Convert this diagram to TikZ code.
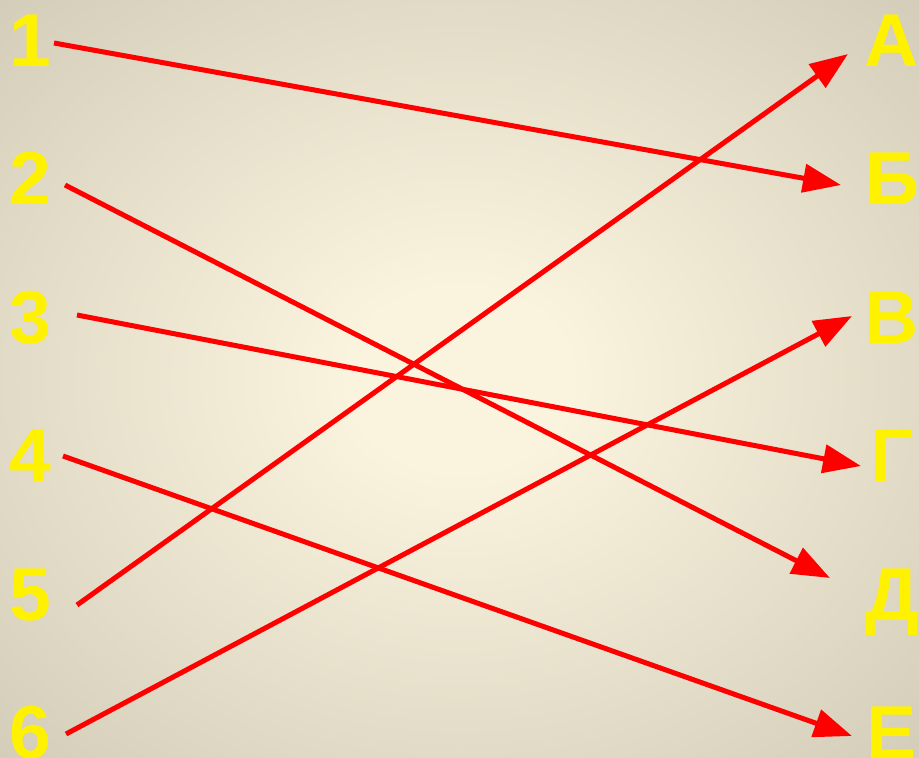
\documentclass[tikz,border=0pt]{standalone}
\usepackage{fontspec}
\setmainfont{Liberation Sans}
\usepackage{xcolor}
\usetikzlibrary{arrows.meta}

\definecolor{bgin}{HTML}{FAF4DF}
\definecolor{bgout}{HTML}{D3CCB8}
\pgfdeclareradialshading{vignette}{\pgfpoint{0bp}{0bp}}{%
  color(0bp)=(bgin); color(6bp)=(bgin); color(36bp)=(bgout); color(50bp)=(bgout)}

\begin{document}
\begin{tikzpicture}[
  x=1pt,
  y=-1pt,
  num/.style={
    text=yellow,
    font=\fontsize{75}{80}\selectfont\bfseries,
    inner sep=0pt,
    anchor=base
  },
  arrow/.style={
    -{Triangle[length=38pt, width=28pt]},
    line width=5pt,
    draw=red
  }
]

% Background
\useasboundingbox (0,0) rectangle (919,758);
\shade[shading=vignette] (0,0) rectangle (919,758);

% Left column
\node[num] (n1) at (30,66) {1};
\node[num] (n2) at (30,204.5) {2};
\node[num] (n3) at (30,343) {3};
\node[num] (n4) at (30,481.5) {4};
\node[num] (n5) at (30,620) {5};
\node[num] (n6) at (30,758.5) {6};

% Right column
\node[num] (lA) at (892,66) {А};
\node[num] (lB) at (892,204.5) {Б};
\node[num] (lV) at (892,343) {В};
\node[num] (lG) at (892,481.5) {Г};
\node[num] (lD) at (892,620) {Д};
\node[num] (lE) at (892,758.5) {Е};

% Line ends
\coordinate (s1) at (54,43);
\coordinate (s2) at (65,185);
\coordinate (s3) at (77,315);
\coordinate (s4) at (63,456);
\coordinate (s5) at (77,605);
\coordinate (s6) at (66,734);
\coordinate (tA) at (848,54);
\coordinate (tB) at (841,185);
\coordinate (tV) at (852,316);
\coordinate (tG) at (861,466);
\coordinate (tD) at (830,578);
\coordinate (tE) at (852,736);

% Matches
\draw[arrow] (s1) -- (tB);
\draw[arrow] (s2) -- (tD);
\draw[arrow] (s3) -- (tG);
\draw[arrow] (s4) -- (tE);
\draw[arrow] (s5) -- (tA);
\draw[arrow] (s6) -- (tV);

\end{tikzpicture}
\end{document}
